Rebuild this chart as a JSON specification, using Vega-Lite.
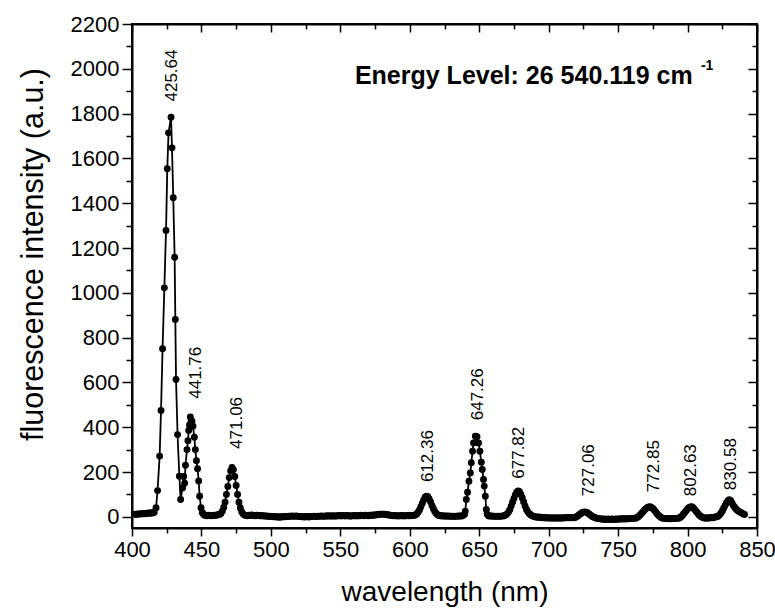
{
"$schema": "https://vega.github.io/schema/vega-lite/v6.json",
"width": 625, "height": 504,
"autosize": {"type": "none"},
"padding": {"left": 132, "top": 24, "right": 18, "bottom": 88},
"background": "white",
"config": {"view": {"stroke": "black", "strokeWidth": 2}, "font": "Liberation Sans"},
"datasets": {
"spectrum": [
{"wl":402,"fi":12},{"wl":403,"fi":10},{"wl":404,"fi":13},{"wl":405,"fi":12},{"wl":406,"fi":14},{"wl":407,"fi":13},{"wl":408,"fi":15},{"wl":409,"fi":14},{"wl":410,"fi":16},{"wl":411,"fi":15},{"wl":412,"fi":17},{"wl":413,"fi":16},{"wl":414,"fi":18},{"wl":415,"fi":17},{"wl":416,"fi":20},
{"wl":417.3,"fi":40},{"wl":418.4,"fi":117},{"wl":419.9,"fi":271},{"wl":420.9,"fi":475},{"wl":422.0,"fi":750},{"wl":423.3,"fi":1022},{"wl":424.5,"fi":1278},{"wl":425.4,"fi":1554},{"wl":426.3,"fi":1714},{"wl":428.1,"fi":1784},{"wl":428.8,"fi":1647},{"wl":429.7,"fi":1424},{"wl":430.7,"fi":1159},{"wl":431.2,"fi":881},{"wl":431.7,"fi":613},{"wl":432.8,"fi":367},{"wl":434.1,"fi":181},{"wl":435.0,"fi":77},{"wl":436.4,"fi":129},{"wl":437.2,"fi":180},{"wl":437.9,"fi":150},{"wl":438.5,"fi":230},{"wl":439.6,"fi":300},{"wl":440.3,"fi":340},{"wl":440.8,"fi":385},{"wl":441.4,"fi":410},{"wl":442.0,"fi":446},{"wl":442.6,"fi":430},{"wl":443.2,"fi":427},{"wl":443.9,"fi":404},{"wl":444.9,"fi":355},{"wl":445.6,"fi":300},{"wl":446.4,"fi":250},{"wl":447.2,"fi":215},{"wl":448.0,"fi":160},{"wl":448.7,"fi":92},{"wl":449.7,"fi":40},{"wl":450.6,"fi":18},{"wl":451.6,"fi":10},
{"wl":452,"fi":8},{"wl":453,"fi":6},{"wl":454,"fi":5},{"wl":455,"fi":7},{"wl":456,"fi":6},{"wl":457,"fi":5},{"wl":458,"fi":6},{"wl":459,"fi":7},{"wl":460,"fi":6},{"wl":461,"fi":8},{"wl":462,"fi":9},
{"wl":463,"fi":10},{"wl":464,"fi":15},{"wl":465,"fi":25},{"wl":466,"fi":42},{"wl":467,"fi":65},{"wl":468,"fi":100},{"wl":469,"fi":135},{"wl":470,"fi":175},{"wl":471,"fi":205},{"wl":472,"fi":220},{"wl":473,"fi":210},{"wl":474,"fi":180},{"wl":475,"fi":140},{"wl":476,"fi":100},{"wl":477,"fi":65},{"wl":478,"fi":40},{"wl":479,"fi":22},{"wl":480,"fi":12},{"wl":481,"fi":8},
{"wl":482,"fi":6},{"wl":483,"fi":5},{"wl":484,"fi":7},{"wl":485,"fi":6},{"wl":486,"fi":8},{"wl":487,"fi":7},{"wl":488,"fi":6},{"wl":489,"fi":5},{"wl":490,"fi":7},{"wl":491,"fi":6},{"wl":492,"fi":5},{"wl":493,"fi":6},{"wl":494,"fi":4},{"wl":495,"fi":5},{"wl":496,"fi":3},{"wl":497,"fi":4},{"wl":498,"fi":2},{"wl":499,"fi":3},{"wl":500,"fi":1},{"wl":501,"fi":2},{"wl":502,"fi":0},{"wl":503,"fi":1},{"wl":504,"fi":-1},{"wl":505,"fi":0},{"wl":506,"fi":-2},{"wl":507,"fi":0},{"wl":508,"fi":-1},{"wl":509,"fi":1},{"wl":510,"fi":0},{"wl":511,"fi":2},{"wl":512,"fi":1},{"wl":513,"fi":3},{"wl":514,"fi":2},{"wl":515,"fi":4},{"wl":516,"fi":3},{"wl":517,"fi":2},{"wl":518,"fi":4},{"wl":519,"fi":3},{"wl":520,"fi":1},{"wl":521,"fi":2},{"wl":522,"fi":0},{"wl":523,"fi":1},{"wl":524,"fi":-1},{"wl":525,"fi":0},{"wl":526,"fi":1},{"wl":527,"fi":-1},{"wl":528,"fi":0},{"wl":529,"fi":2},{"wl":530,"fi":1},{"wl":531,"fi":3},{"wl":532,"fi":2},{"wl":533,"fi":1},{"wl":534,"fi":3},{"wl":535,"fi":2},{"wl":536,"fi":4},{"wl":537,"fi":3},{"wl":538,"fi":2},{"wl":539,"fi":4},{"wl":540,"fi":3},{"wl":541,"fi":5},{"wl":542,"fi":4},{"wl":543,"fi":3},{"wl":544,"fi":5},{"wl":545,"fi":4},{"wl":546,"fi":3},{"wl":547,"fi":5},{"wl":548,"fi":4},{"wl":549,"fi":6},{"wl":550,"fi":5},{"wl":551,"fi":4},{"wl":552,"fi":6},{"wl":553,"fi":5},{"wl":554,"fi":4},{"wl":555,"fi":6},{"wl":556,"fi":5},{"wl":557,"fi":3},{"wl":558,"fi":5},{"wl":559,"fi":4},{"wl":560,"fi":6},{"wl":561,"fi":5},{"wl":562,"fi":4},{"wl":563,"fi":6},{"wl":564,"fi":5},{"wl":565,"fi":7},{"wl":566,"fi":6},{"wl":567,"fi":5},{"wl":568,"fi":7},{"wl":569,"fi":6},{"wl":570,"fi":5},{"wl":571,"fi":7},{"wl":572,"fi":6},{"wl":573,"fi":8},{"wl":574,"fi":7},{"wl":575,"fi":8},{"wl":576,"fi":9},{"wl":577,"fi":10},{"wl":578,"fi":11},{"wl":579,"fi":12},{"wl":580,"fi":11},{"wl":581,"fi":12},{"wl":582,"fi":11},{"wl":583,"fi":10},{"wl":584,"fi":9},{"wl":585,"fi":8},{"wl":586,"fi":7},{"wl":587,"fi":6},{"wl":588,"fi":5},{"wl":589,"fi":6},{"wl":590,"fi":5},{"wl":591,"fi":4},{"wl":592,"fi":5},{"wl":593,"fi":4},{"wl":594,"fi":6},{"wl":595,"fi":5},{"wl":596,"fi":4},{"wl":597,"fi":5},{"wl":598,"fi":6},{"wl":599,"fi":5},{"wl":600,"fi":6},{"wl":601,"fi":5},{"wl":602,"fi":6},{"wl":603,"fi":7},
{"wl":604,"fi":8},{"wl":605,"fi":12},{"wl":606,"fi":20},{"wl":607,"fi":30},{"wl":608,"fi":45},{"wl":609,"fi":60},{"wl":610,"fi":75},{"wl":611,"fi":87},{"wl":612,"fi":92},{"wl":613,"fi":90},{"wl":614,"fi":80},{"wl":615,"fi":66},{"wl":616,"fi":50},{"wl":617,"fi":36},{"wl":618,"fi":24},{"wl":619,"fi":15},{"wl":620,"fi":9},{"wl":621,"fi":6},
{"wl":622,"fi":5},{"wl":623,"fi":4},{"wl":624,"fi":5},{"wl":625,"fi":3},{"wl":626,"fi":4},{"wl":627,"fi":3},{"wl":628,"fi":4},{"wl":629,"fi":2},{"wl":630,"fi":3},{"wl":631,"fi":2},{"wl":632,"fi":3},{"wl":633,"fi":2},{"wl":634,"fi":3},{"wl":635,"fi":4},{"wl":636,"fi":3},{"wl":637,"fi":4},{"wl":638,"fi":5},
{"wl":639.4,"fi":10},{"wl":639.96,"fi":25},{"wl":640.7,"fi":77},{"wl":641.6,"fi":110},{"wl":642.6,"fi":159},{"wl":643.6,"fi":196},{"wl":644.3,"fi":241},{"wl":645.2,"fi":293},{"wl":645.9,"fi":330},{"wl":647.2,"fi":360},{"wl":648.4,"fi":357},{"wl":649.5,"fi":330},{"wl":650.5,"fi":293},{"wl":651.5,"fi":244},{"wl":652.2,"fi":211},{"wl":653.1,"fi":167},{"wl":653.6,"fi":137},{"wl":654.4,"fi":92},{"wl":655.1,"fi":33},{"wl":655.7,"fi":12},{"wl":656.5,"fi":6},
{"wl":657,"fi":4},{"wl":658,"fi":3},{"wl":659,"fi":4},{"wl":660,"fi":3},{"wl":661,"fi":2},{"wl":662,"fi":3},{"wl":663,"fi":2},{"wl":664,"fi":3},{"wl":665,"fi":2},{"wl":666,"fi":3},{"wl":667,"fi":4},{"wl":668,"fi":5},
{"wl":669,"fi":8},{"wl":670,"fi":12},{"wl":671,"fi":20},{"wl":672,"fi":32},{"wl":673,"fi":48},{"wl":674,"fi":65},{"wl":675,"fi":82},{"wl":676,"fi":98},{"wl":677,"fi":110},{"wl":678,"fi":115},{"wl":679,"fi":112},{"wl":680,"fi":100},{"wl":681,"fi":84},{"wl":682,"fi":66},{"wl":683,"fi":48},{"wl":684,"fi":33},{"wl":685,"fi":22},{"wl":686,"fi":14},{"wl":687,"fi":9},{"wl":688,"fi":5},
{"wl":689,"fi":2},{"wl":690,"fi":0},{"wl":691,"fi":-1},{"wl":692,"fi":-2},{"wl":693,"fi":-1},{"wl":694,"fi":-3},{"wl":695,"fi":-2},{"wl":696,"fi":-4},{"wl":697,"fi":-3},{"wl":698,"fi":-5},{"wl":699,"fi":-4},{"wl":700,"fi":-5},{"wl":701,"fi":-4},{"wl":702,"fi":-6},{"wl":703,"fi":-5},{"wl":704,"fi":-4},{"wl":705,"fi":-6},{"wl":706,"fi":-5},{"wl":707,"fi":-4},{"wl":708,"fi":-6},{"wl":709,"fi":-5},{"wl":710,"fi":-4},{"wl":711,"fi":-5},{"wl":712,"fi":-4},{"wl":713,"fi":-3},{"wl":714,"fi":-4},{"wl":715,"fi":-3},{"wl":716,"fi":-4},{"wl":717,"fi":-3},{"wl":718,"fi":-4},
{"wl":719,"fi":-3},{"wl":720,"fi":0},{"wl":721,"fi":4},{"wl":722,"fi":9},{"wl":723,"fi":14},{"wl":724,"fi":18},{"wl":725,"fi":21},{"wl":726,"fi":22},{"wl":727,"fi":21},{"wl":728,"fi":18},{"wl":729,"fi":13},{"wl":730,"fi":8},{"wl":731,"fi":3},{"wl":732,"fi":0},{"wl":733,"fi":-3},{"wl":734,"fi":-5},
{"wl":735,"fi":-7},{"wl":736,"fi":-8},{"wl":737,"fi":-9},{"wl":738,"fi":-10},{"wl":739,"fi":-11},{"wl":740,"fi":-10},{"wl":741,"fi":-12},{"wl":742,"fi":-11},{"wl":743,"fi":-10},{"wl":744,"fi":-12},{"wl":745,"fi":-11},{"wl":746,"fi":-10},{"wl":747,"fi":-12},{"wl":748,"fi":-11},{"wl":749,"fi":-10},{"wl":750,"fi":-11},{"wl":751,"fi":-10},{"wl":752,"fi":-9},{"wl":753,"fi":-10},{"wl":754,"fi":-9},{"wl":755,"fi":-10},{"wl":756,"fi":-9},{"wl":757,"fi":-8},{"wl":758,"fi":-9},{"wl":759,"fi":-8},{"wl":760,"fi":-7},{"wl":761,"fi":-8},{"wl":762,"fi":-6},{"wl":763,"fi":-5},
{"wl":764,"fi":-2},{"wl":765,"fi":3},{"wl":766,"fi":9},{"wl":767,"fi":16},{"wl":768,"fi":23},{"wl":769,"fi":30},{"wl":770,"fi":36},{"wl":771,"fi":41},{"wl":772,"fi":44},{"wl":773,"fi":45},{"wl":774,"fi":42},{"wl":775,"fi":37},{"wl":776,"fi":30},{"wl":777,"fi":22},{"wl":778,"fi":14},{"wl":779,"fi":7},{"wl":780,"fi":1},{"wl":781,"fi":-3},{"wl":782,"fi":-6},{"wl":783,"fi":-7},{"wl":784,"fi":-8},
{"wl":785,"fi":-8},{"wl":786,"fi":-9},{"wl":787,"fi":-8},{"wl":788,"fi":-9},{"wl":789,"fi":-8},{"wl":790,"fi":-7},{"wl":791,"fi":-8},{"wl":792,"fi":-7},{"wl":793,"fi":-6},{"wl":794,"fi":-5},
{"wl":795,"fi":-2},{"wl":796,"fi":4},{"wl":797,"fi":11},{"wl":798,"fi":19},{"wl":799,"fi":27},{"wl":800,"fi":35},{"wl":801,"fi":41},{"wl":802,"fi":44},{"wl":803,"fi":45},{"wl":804,"fi":41},{"wl":805,"fi":34},{"wl":806,"fi":26},{"wl":807,"fi":18},{"wl":808,"fi":10},{"wl":809,"fi":4},{"wl":810,"fi":0},{"wl":811,"fi":-3},{"wl":812,"fi":-5},
{"wl":813,"fi":-5},{"wl":814,"fi":-6},{"wl":815,"fi":-4},{"wl":816,"fi":-5},{"wl":817,"fi":-3},{"wl":818,"fi":-4},{"wl":819,"fi":-2},{"wl":820,"fi":-1},{"wl":821,"fi":0},{"wl":822,"fi":2},
{"wl":823,"fi":8},{"wl":824,"fi":16},{"wl":825,"fi":26},{"wl":826,"fi":38},{"wl":827,"fi":50},{"wl":828,"fi":62},{"wl":829,"fi":71},{"wl":830,"fi":76},{"wl":831,"fi":73},{"wl":832,"fi":62},{"wl":833,"fi":50},{"wl":834,"fi":42},{"wl":835,"fi":34},{"wl":836,"fi":28},{"wl":837,"fi":24},{"wl":838,"fi":20},{"wl":839,"fi":17},{"wl":840,"fi":13},{"wl":841,"fi":10}
],
"peaks": [
{"wl":428.8,"fi":1854,"label":"425.64"},
{"wl":446.1,"fi":527,"label":"441.76"},
{"wl":475.6,"fi":303,"label":"471.06"},
{"wl":612.8,"fi":155,"label":"612.36"},
{"wl":648.8,"fi":431,"label":"647.26"},
{"wl":678.3,"fi":170,"label":"677.82"},
{"wl":728.7,"fi":92,"label":"727.06"},
{"wl":775.5,"fi":110,"label":"772.85"},
{"wl":802.4,"fi":92,"label":"802.63"},
{"wl":831.4,"fi":119,"label":"830.58"}
],
"note": [{"wl":560.5,"fi":1968,"label":"Energy Level: 26 540.119 cm"}],
"sup": [{"wl":809.6,"fi":2012,"label":"-1"}]
},
"layer": [
{
"data": {"name": "spectrum"},
"mark": {"type": "line", "color": "black", "strokeWidth": 1.8},
"encoding": {
"x": {"field": "wl", "type": "quantitative", "scale": {"domain": [400, 850], "nice": false, "zero": false},
"axis": {"orient": "bottom", "values": [400,425,450,475,500,525,550,575,600,625,650,675,700,725,750,775,800,825,850],
"labelExpr": "datum.value % 50 === 0 ? datum.label : ''",
"tickSize": {"condition": {"test": "datum.value % 50 === 0", "value": 8}, "value": 5},
"tickColor": "black", "tickWidth": 1.5, "domainColor": "black", "domainWidth": 2,
"labelFontSize": 22, "labelColor": "black", "labelFont": "Liberation Sans", "labelPadding": 3, "labelFlush": false, "labelOverlap": false,
"title": "wavelength (nm)", "titleFontSize": 28, "titleFontWeight": "normal", "titleColor": "black", "titleFont": "Liberation Sans", "titlePadding": 18, "grid": false}},
"y": {"field": "fi", "type": "quantitative", "scale": {"domain": [-50, 2200], "nice": false, "zero": false},
"axis": {"orient": "left", "values": [0,100,200,300,400,500,600,700,800,900,1000,1100,1200,1300,1400,1500,1600,1700,1800,1900,2000,2100,2200],
"labelExpr": "datum.value % 200 === 0 ? datum.label : ''",
"format": "d",
"tickSize": {"condition": {"test": "datum.value % 200 === 0", "value": 10}, "value": 6},
"tickColor": "black", "tickWidth": 1.5, "domainColor": "black", "domainWidth": 2,
"labelFontSize": 22, "labelColor": "black", "labelFont": "Liberation Sans", "labelPadding": 3, "labelFlush": false, "labelOverlap": false,
"title": "fluorescence intensity (a.u.)", "titleFontSize": 30.5, "titleFontWeight": "normal", "titleColor": "black", "titleFont": "Liberation Sans",
"titleX": -99, "titleY": 230, "titleAngle": -90, "titleAlign": "center", "titleBaseline": "middle", "grid": false}}
}
},
{
"data": {"name": "spectrum"},
"mark": {"type": "circle", "color": "black", "size": 48, "opacity": 1},
"encoding": {
"x": {"field": "wl", "type": "quantitative",
"axis": {"orient": "top", "values": [400,425,450,475,500,525,550,575,600,625,650,675,700,725,750,775,800,825,850], "labels": false, "title": null,
"tickSize": {"condition": {"test": "datum.value % 50 === 0", "value": -8}, "value": -5},
"tickColor": "black", "tickWidth": 1.5, "domainColor": "black", "domainWidth": 2, "grid": false}},
"y": {"field": "fi", "type": "quantitative",
"axis": {"orient": "right", "values": [0,100,200,300,400,500,600,700,800,900,1000,1100,1200,1300,1400,1500,1600,1700,1800,1900,2000,2100,2200], "labels": false, "title": null,
"tickSize": {"condition": {"test": "datum.value % 200 === 0", "value": -9}, "value": -5},
"tickColor": "black", "tickWidth": 1.5, "domainColor": "black", "domainWidth": 2, "grid": false}}
}
},
{
"data": {"name": "peaks"},
"mark": {"type": "text", "angle": 270, "align": "left", "baseline": "middle", "fontSize": 17, "font": "Liberation Sans", "color": "black"},
"encoding": {
"x": {"field": "wl", "type": "quantitative", "axis": null},
"y": {"field": "fi", "type": "quantitative", "axis": null},
"text": {"field": "label"}
}
},
{
"data": {"name": "note"},
"mark": {"type": "text", "align": "left", "baseline": "middle", "fontSize": 25, "fontWeight": "bold", "font": "Liberation Sans", "color": "black"},
"encoding": {
"x": {"field": "wl", "type": "quantitative", "axis": null},
"y": {"field": "fi", "type": "quantitative", "axis": null},
"text": {"field": "label"}
}
},
{
"data": {"name": "sup"},
"mark": {"type": "text", "align": "left", "baseline": "middle", "fontSize": 14, "fontWeight": "bold", "font": "Liberation Sans", "color": "black"},
"encoding": {
"x": {"field": "wl", "type": "quantitative", "axis": null},
"y": {"field": "fi", "type": "quantitative", "axis": null},
"text": {"field": "label"}
}
}
],
"resolve": {"axis": {"x": "independent", "y": "independent"}}
}
